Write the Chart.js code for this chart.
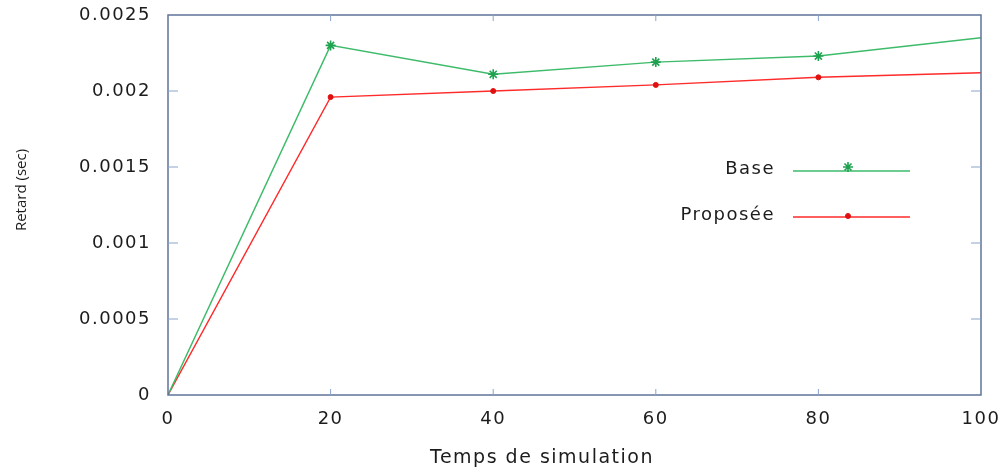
<!DOCTYPE html>
<html>
<head>
<meta charset="utf-8">
<script src="https://cdn.jsdelivr.net/npm/chart.js@4"></script>
<style>
  html, body { margin: 0; padding: 0; background: #fff; }
  #wrap { width: 999px; height: 467px; position: relative; }
</style>
</head>
<body>
<div id="wrap"><canvas id="chart" width="999" height="467"></canvas></div>
<script>
// temps de simulation / retard
const temps = [0, 20, 40, 60, 80, 100];
const retardBase = [0, 0.0023, 0.00211, 0.00219, 0.00223, 0.00235];
const retardProposee = [0, 0.00196, 0.002, 0.00204, 0.00209, 0.00212];
const yTicks = [0, 0.0005, 0.001, 0.0015, 0.002, 0.0025];
const xTicks = [0, 20, 40, 60, 80, 100];

const AXIS = '#5f7399';
const TICK = '#8aa4cc';
const GREEN = '#3dbb6a';
const RED = '#ff2a2a';
const TEXT = '#1c1c1c';

// the scanned chart has wide lettering
const spacingPlugin = {
  id: 'spacing',
  beforeDraw(chart) { chart.ctx.letterSpacing = '1.5px'; }
};

// frame + inward ticks on all four sides
const framePlugin = {
  id: 'frame',
  afterDraw(chart) {
    const { ctx, chartArea: a, scales } = chart;
    ctx.save();
    ctx.strokeStyle = AXIS;
    ctx.lineWidth = 1.5;
    ctx.strokeRect(a.left, a.top, a.right - a.left, a.bottom - a.top);
    ctx.lineWidth = 1;
    ctx.strokeStyle = TICK;
    xTicks.forEach(v => {
      if (v === 0 || v === 100) return;
      const x = scales.x.getPixelForValue(v);
      ctx.beginPath();
      ctx.moveTo(x, a.bottom); ctx.lineTo(x, a.bottom - 6);
      ctx.moveTo(x, a.top); ctx.lineTo(x, a.top + 6);
      ctx.stroke();
    });
    yTicks.forEach(v => {
      if (v === 0 || v === 0.0025) return;
      const y = scales.y.getPixelForValue(v);
      ctx.beginPath();
      ctx.moveTo(a.left, y); ctx.lineTo(a.left + 10, y);
      ctx.moveTo(a.right, y); ctx.lineTo(a.right - 10, y);
      ctx.stroke();
    });

    // axis titles
    ctx.fillStyle = TEXT;
    ctx.textBaseline = 'alphabetic';
    ctx.textAlign = 'center';
    ctx.letterSpacing = '1.5px';
    ctx.font = '19px "DejaVu Sans"';
    ctx.fillText('Temps de simulation', 542, 463);

    ctx.letterSpacing = '0px';
    ctx.font = '15px "Open Sans"';
    ctx.translate(26, 190);
    ctx.rotate(-Math.PI / 2);
    ctx.fillText('Retard (sec)', 0, 0);
    ctx.restore();
  }
};

// legend drawn inside the plot, gnuplot style
const legendPlugin = {
  id: 'innerLegend',
  afterDatasetsDraw(chart) {
    const { ctx } = chart;
    const rows = [171, 217];
    ctx.save();
    chart.data.datasets.forEach((ds, i) => {
      const y = rows[i];
      ctx.letterSpacing = '1.5px';
      ctx.font = '18px "DejaVu Sans"';
      ctx.fillStyle = TEXT;
      ctx.textAlign = 'right';
      ctx.textBaseline = 'alphabetic';
      ctx.fillText(ds.label, 775, y + 3);
      ctx.strokeStyle = ds.borderColor;
      ctx.lineWidth = 1.4;
      ctx.beginPath();
      ctx.moveTo(793, y); ctx.lineTo(910, y);
      ctx.stroke();
      ctx.fillStyle = ds.pointBackgroundColor;
      ctx.strokeStyle = ds.pointBorderColor;
      ctx.lineWidth = ds.pointBorderWidth;
      Chart.helpers.drawPoint(ctx, {
        pointStyle: ds.pointStyle,
        radius: ds.legendRadius,
        rotation: 0,
        borderWidth: ds.pointBorderWidth
      }, 848, y - (i === 0 ? 4 : 1));
    });
    ctx.restore();
  }
};

new Chart(document.getElementById('chart'), {
  type: 'line',
  data: {
    datasets: [
      {
        label: 'Base',
        data: temps.map((t, i) => ({ x: t, y: retardBase[i] })),
        borderColor: GREEN,
        borderWidth: 1.4,
        pointStyle: 'star',
        pointRadius: [0, 5, 5, 5, 5, 0],
        legendRadius: 5,
        pointBorderColor: '#1fa24f',
        pointBackgroundColor: '#1fa24f',
        pointBorderWidth: 1.6,
        tension: 0
      },
      {
        label: 'Proposée',
        data: temps.map((t, i) => ({ x: t, y: retardProposee[i] })),
        borderColor: RED,
        borderWidth: 1.4,
        pointStyle: 'circle',
        pointRadius: [0, 2.5, 2.5, 2.5, 2.5, 0],
        legendRadius: 2.5,
        pointBorderColor: '#e01010',
        pointBackgroundColor: '#e01010',
        pointBorderWidth: 1,
        tension: 0
      }
    ]
  },
  options: {
    responsive: false,
    animation: false,
    layout: { autoPadding: false, padding: { top: 15, right: 18, left: 0, bottom: 0 } },
    plugins: { legend: { display: false }, tooltip: { enabled: false } },
    scales: {
      x: {
        type: 'linear',
        min: 0, max: 100,
        afterBuildTicks: s => { s.ticks = xTicks.map(v => ({ value: v })); },
        afterFit: s => { s.height = 72; s.paddingLeft = 0; s.paddingRight = 0; },
        grid: { display: false },
        border: { display: false },
        ticks: { color: TEXT, font: { family: 'DejaVu Sans', size: 18 }, padding: 6, maxRotation: 0, autoSkip: false },
        title: { display: false }
      },
      y: {
        min: 0, max: 0.0025,
        afterBuildTicks: s => { s.ticks = yTicks.map(v => ({ value: v })); },
        afterFit: s => { s.width = 168; s.paddingTop = 0; s.paddingBottom = 0; },
        grid: { display: false },
        border: { display: false },
        ticks: {
          color: TEXT, font: { family: 'DejaVu Sans', size: 18 }, padding: 9, autoSkip: false,
          callback: v => String(Number(v.toFixed(4)))
        },
        title: { display: false }
      }
    }
  },
  plugins: [spacingPlugin, framePlugin, legendPlugin]
});
</script>
</body>
</html>
